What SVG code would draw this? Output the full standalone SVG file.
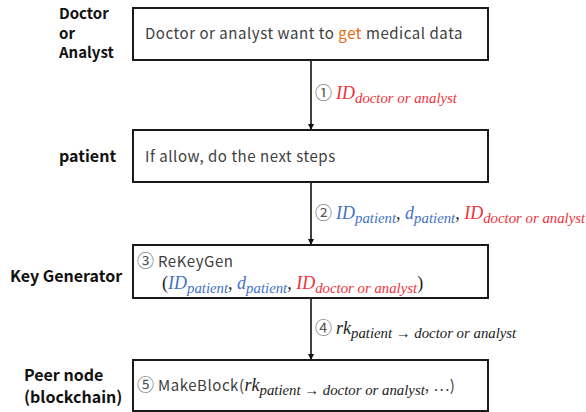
<svg xmlns="http://www.w3.org/2000/svg" width="586" height="412" viewBox="0 0 586 412">
<defs>
<style>
.box{fill:#fff;stroke:#1a1a1a;stroke-width:2}
.bt{font-family:"Noto Sans CJK JP","Noto Sans",sans-serif;font-size:15px;fill:#404040;letter-spacing:0.55px}
.lab{font-family:"Noto Sans CJK JP","Noto Sans",sans-serif;font-size:16px;font-weight:bold;fill:#111}
.lab3{font-size:15px}
.num{font-family:"Noto Sans CJK JP","Noto Sans",sans-serif;font-size:17px;fill:#555;letter-spacing:0}
.m{font-family:"Liberation Serif","DejaVu Serif",serif;font-style:italic;font-size:18px;letter-spacing:0}
.s{font-size:14.8px}
.red{fill:#F0323C}
.blue{fill:#4472C4}
.blk{fill:#222}
.conn{stroke:#111;stroke-width:1.6;fill:none}
</style>
<marker id="ah" markerWidth="6" markerHeight="6" refX="5" refY="3" orient="auto" markerUnits="userSpaceOnUse">
<path d="M0,0 L6,3 L0,6 Z" fill="#111"/>
</marker>
</defs>
<rect width="586" height="412" fill="#fff"/>
<g id="connectors">
<line class="conn" x1="311" y1="60" x2="311" y2="129" marker-end="url(#ah)"/>
<line class="conn" x1="311" y1="182" x2="311" y2="244" marker-end="url(#ah)"/>
<line class="conn" x1="311" y1="298" x2="311" y2="359" marker-end="url(#ah)"/>
<text class="num" x="315" y="99">①</text>
<text class="m red" x="336" y="99">ID<tspan class="s" dy="4">doctor or analyst</tspan></text>
<text class="num" x="315" y="219">②</text>
<text class="m" x="336" y="219"><tspan class="blue">ID</tspan><tspan class="s blue" dy="4">patient</tspan><tspan class="blk" dy="-4">, </tspan><tspan class="blue">d</tspan><tspan class="s blue" dy="4">patient</tspan><tspan class="blk" dy="-4">, </tspan><tspan class="red">ID</tspan><tspan class="s red" dy="4">doctor or analyst</tspan></text>
<text class="num" x="315" y="334">④</text>
<text class="m blk" x="336" y="334">rk<tspan class="s" dy="4">patient → doctor or analyst</tspan></text>
</g>
<g id="n1">
<rect class="box" x="133" y="8" width="355" height="52"/>
<text class="bt" x="145" y="39">Doctor or analyst want to <tspan fill="#E46C0A">get</tspan> medical data</text>
<text class="lab lab3" x="59" y="19">Doctor</text>
<text class="lab lab3" x="59" y="38.5">or</text>
<text class="lab lab3" x="59" y="58">Analyst</text>
</g>
<g id="n2">
<rect class="box" x="133" y="130" width="355" height="52"/>
<text class="bt" x="145" y="162">If allow, do the next steps</text>
<text class="lab" x="59" y="162">patient</text>
</g>
<g id="n3">
<rect class="box" x="133" y="245" width="355" height="53"/>
<text class="bt" x="137" y="267"><tspan class="num">③</tspan> ReKeyGen</text>
<text class="m" x="162" y="289"><tspan class="blk" font-style="normal">(</tspan><tspan class="blue">ID</tspan><tspan class="s blue" dy="4">patient</tspan><tspan class="blk" dy="-4">, </tspan><tspan class="blue">d</tspan><tspan class="s blue" dy="4">patient</tspan><tspan class="blk" dy="-4">, </tspan><tspan class="red">ID</tspan><tspan class="s red" dy="4">doctor or analyst</tspan><tspan class="blk" dy="-4" font-style="normal">)</tspan></text>
<text class="lab" x="10" y="282">Key Generator</text>
</g>
<g id="n4">
<rect class="box" x="133" y="360" width="355" height="51"/>
<text class="bt" x="137" y="391"><tspan class="num">⑤</tspan> MakeBlock(<tspan class="m blk">rk</tspan><tspan class="m s blk" dy="4">patient → doctor or analyst</tspan><tspan dy="-4">, ⋯)</tspan></text>
<text class="lab" x="24" y="381">Peer node</text>
<text class="lab" x="24" y="403">(blockchain)</text>
</g>
</svg>
